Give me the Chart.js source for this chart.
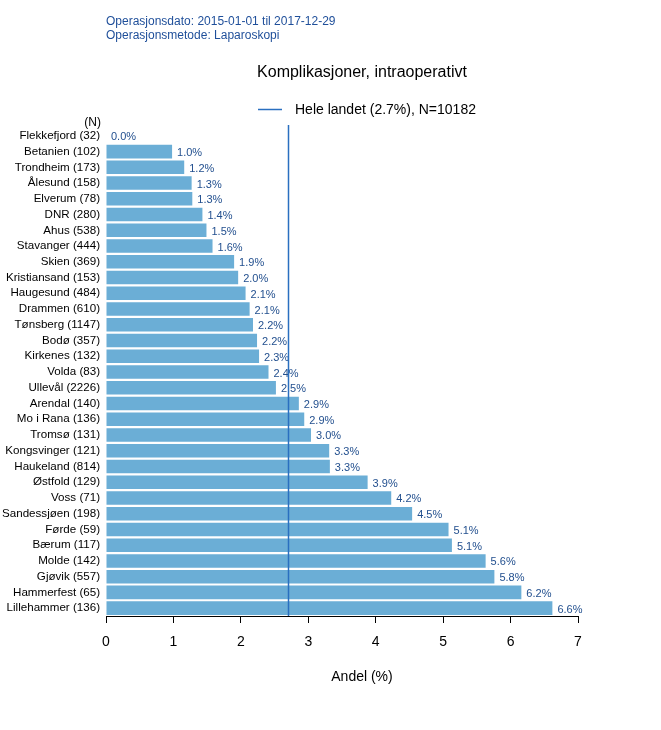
<!DOCTYPE html>
<html>
<head>
<meta charset="utf-8">
<script src="https://cdn.jsdelivr.net/npm/chart.js@4/dist/chart.umd.min.js"></script>
<style>
html,body{margin:0;padding:0;background:#fff;}
#wrap{width:661px;height:730px;position:relative;}
</style>
</head>
<body>
<div id="wrap"><canvas id="c" width="661" height="730"></canvas></div>
<script>
const categories = ["Flekkefjord (32)","Betanien (102)","Trondheim (173)","Ålesund (158)","Elverum (78)","DNR (280)","Ahus (538)","Stavanger (444)","Skien (369)","Kristiansand (153)","Haugesund (484)","Drammen (610)","Tønsberg (1147)","Bodø (357)","Kirkenes (132)","Volda (83)","Ullevål (2226)","Arendal (140)","Mo i Rana (136)","Tromsø (131)","Kongsvinger (121)","Haukeland (814)","Østfold (129)","Voss (71)","Sandessjøen (198)","Førde (59)","Bærum (117)","Molde (142)","Gjøvik (557)","Hammerfest (65)","Lillehammer (136)"];
const values = [0.0,0.98,1.16,1.27,1.28,1.43,1.49,1.58,1.90,1.96,2.07,2.13,2.18,2.24,2.27,2.41,2.52,2.86,2.94,3.04,3.31,3.32,3.88,4.23,4.54,5.08,5.13,5.63,5.76,6.16,6.62];
const xTicks = [0,1,2,3,4,5,6,7];
const nationalValue = 2.7;
const legendText = "Hele landet (2.7%), N=10182";
const titleText = "Komplikasjoner, intraoperativt";
const xAxisTitle = "Andel (%)";
const subtitleLines = ["Operasjonsdato: 2015-01-01 til 2017-12-29","Operasjonsmetode: Laparoskopi"];

const FONT = "'Liberation Sans', Arial, Helvetica, sans-serif";
const BAR_COLOR = "#6baed6";
const LINE_COLOR = "#2a6fc0";
const TEXT_BLUE = "#23508f";

const overlay = {
  id: 'overlay',
  afterDatasetsDraw(chart) {
    const ctx = chart.ctx;
    const x = chart.scales.x, y = chart.scales.y;
    const area = chart.chartArea;
    ctx.save();
    // value labels
    ctx.font = "11px " + FONT;
    ctx.fillStyle = TEXT_BLUE;
    ctx.textAlign = 'left';
    ctx.textBaseline = 'middle';
    values.forEach((v, i) => {
      const px = x.getPixelForValue(v);
      const py = y.getPixelForValue(i);
      ctx.fillText(v.toFixed(1) + "%", px + 5, py + 1.5);
    });
    // national line
    const lx = Math.round(x.getPixelForValue(nationalValue)) + 0.5;
    ctx.strokeStyle = LINE_COLOR;
    ctx.lineWidth = 1.5;
    ctx.beginPath();
    ctx.moveTo(lx, area.top - 3);
    ctx.lineTo(lx, area.bottom);
    ctx.stroke();
    // legend
    ctx.beginPath();
    ctx.moveTo(258, 109.5);
    ctx.lineTo(282, 109.5);
    ctx.stroke();
    ctx.fillStyle = "#000";
    ctx.font = "14px " + FONT;
    ctx.textBaseline = 'middle';
    ctx.fillText(legendText, 295, 110.5);
    // title
    ctx.font = "16px " + FONT;
    ctx.textAlign = 'center';
    ctx.fillText(titleText, 362, 72.5);
    // x axis title
    ctx.font = "14px " + FONT;
    ctx.fillText(xAxisTitle, 362, 677.5);
    // subtitle
    ctx.font = "12px " + FONT;
    ctx.textAlign = 'left';
    ctx.fillStyle = "#1f4f9a";
    ctx.fillText(subtitleLines[0], 106, 21.5);
    ctx.fillText(subtitleLines[1], 106, 35.5);
    // (N)
    ctx.fillStyle = "#000";
    ctx.textAlign = 'right';
    ctx.fillText("(N)", 101, 122.5);
    ctx.restore();
  }
};

new Chart(document.getElementById('c'), {
  type: 'bar',
  data: {
    labels: categories,
    datasets: [{
      data: values,
      backgroundColor: BAR_COLOR,
      borderWidth: 0,
      barPercentage: 0.86,
      categoryPercentage: 1.0
    }]
  },
  options: {
    indexAxis: 'y',
    responsive: false,
    animation: false,
    devicePixelRatio: 1,
    layout: { padding: { top: 128, right: 83, bottom: 45, left: 0 } },
    plugins: { legend: { display: false }, tooltip: { enabled: false }, title: { display: false } },
    scales: {
      x: {
        type: 'linear',
        min: 0, max: 7,
        afterBuildTicks(scale) { scale.ticks = xTicks.map(v => ({ value: v })); },
        afterFit(scale) { scale.height = 69; },
        grid: { display: true, drawOnChartArea: false, drawTicks: true, tickLength: 7, color: '#000', lineWidth: 1 },
        border: { display: true, color: '#000', width: 1 },
        ticks: { color: '#000', font: { size: 14, family: FONT }, padding: 11, maxRotation: 0 },
        title: { display: false }
      },
      y: {
        afterFit(scale) { scale.width = 106; },
        grid: { display: false, drawTicks: false },
        border: { display: false },
        ticks: { color: '#000', font: { size: 11.6, family: FONT }, padding: 6, autoSkip: false }
      }
    }
  },
  plugins: [overlay]
});
</script>
</body>
</html>
